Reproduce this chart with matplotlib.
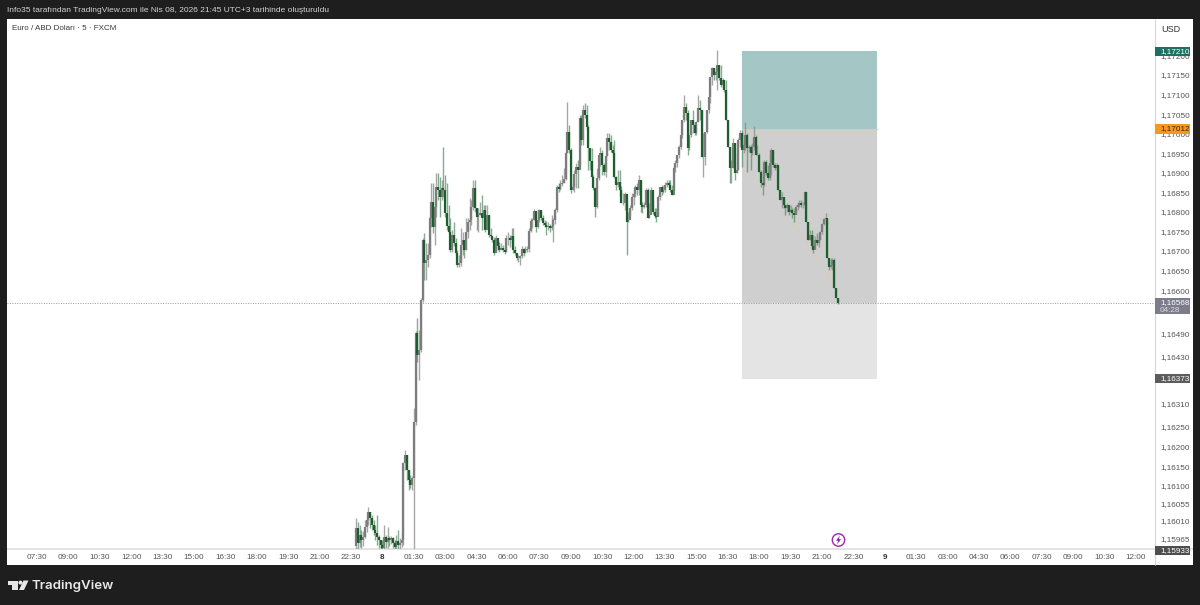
import matplotlib
matplotlib.use('Agg')
import matplotlib.pyplot as plt
from matplotlib.patches import Rectangle, Polygon, Circle
import numpy as np

plt.rcParams['font.family'] = ['Liberation Sans', 'DejaVu Sans']

# EURUSD 5 min, quote = 1 + value / 1e5, first bar 22:45 on Apr 7
highs = [
    16017,16007,15999,15987,15984,16012,16022,16045,16033,16025,
    16012,15999,16025,15974,15961,15961,15999,15974,15994,15971,
    15971,15969,15961,15974,15987,15966,15979,16160,16191,16178,
    16140,16127,16125,16299,16495,16529,16498,16580,16733,16746,
    16720,16720,16792,16874,16874,16818,16899,16899,16889,16881,
    16966,16894,16874,16818,16784,16754,16774,16733,16702,16690,
    16759,16749,16728,16784,16784,16836,16830,16881,16881,16810,
    16810,16825,16843,16818,16818,16818,16792,16759,16738,16736,
    16741,16728,16723,16720,16715,16708,16741,16749,16741,16759,
    16759,16713,16695,16690,16690,16713,16708,16713,16713,16759,
    16784,16784,16807,16802,16784,16807,16805,16792,16779,16777,
    16774,16769,16792,16784,16810,16869,16874,16881,16894,16912,
    16953,17081,17022,16963,16874,16907,16925,16933,17048,17048,
    17073,17078,17073,17022,16963,16963,16894,16864,16912,16945,
    16966,16958,16925,16945,17002,17002,16996,16971,16984,16892,
    16907,16907,16866,16848,16851,16830,16800,16818,16848,16856,
    16869,16874,16894,16881,16825,16825,16861,16861,16823,16864,
    16830,16810,16810,16843,16864,16869,16866,16876,16881,16881,
    16881,16869,16920,16933,16945,16971,16996,17035,17099,17078,
    17060,16996,17035,17060,17030,17032,17099,17086,17060,17002,
    17004,17060,17094,17145,17170,17168,17163,17214,17176,17176,
    17142,17137,17137,17035,16966,16933,16989,16976,16950,16989,
    17009,17009,16976,17030,17002,16971,16971,16976,17020,16996,
    16971,16950,16907,16871,16933,16933,16920,16950,16963,16958,
    16925,16925,16920,16856,16851,16838,16818,16823,16818,16818,
    16810,16810,16818,16823,16830,16830,16825,16853,16851,16774,
    16754,16754,16741,16738,16746,16741,16751,16771,16784,16797,
    16784,16682,16682,16682,16682,16605,16580]
lows = [
    15938,15938,15943,15941,15946,15966,15982,15999,15992,15987,
    15974,15961,15948,15941,15938,15938,15938,15941,15941,15946,
    15951,15941,15938,15938,15938,15938,15943,15948,16140,16115,
    16089,16094,16089,15938,16255,16416,16370,16442,16570,16626,
    16626,16659,16682,16761,16746,16715,16787,16830,16787,16830,
    16838,16787,16754,16746,16697,16697,16713,16690,16659,16659,
    16662,16690,16682,16702,16733,16754,16766,16805,16800,16754,
    16749,16792,16754,16774,16749,16759,16736,16736,16723,16690,
    16697,16702,16697,16702,16697,16692,16697,16715,16710,16720,
    16695,16690,16677,16672,16664,16682,16687,16695,16697,16697,
    16749,16759,16779,16749,16759,16774,16779,16766,16761,16741,
    16754,16749,16754,16723,16769,16800,16851,16856,16866,16874,
    16881,16951,16950,16848,16856,16851,16861,16861,16920,16971,
    16971,17040,17009,16907,16907,16887,16856,16787,16810,16881,
    16917,16894,16894,16889,16943,16958,16953,16945,16887,16856,
    16864,16838,16823,16818,16805,16690,16774,16792,16805,16818,
    16838,16843,16843,16800,16797,16810,16812,16784,16784,16807,
    16795,16784,16774,16792,16830,16843,16848,16851,16864,16864,
    16851,16843,16856,16902,16915,16938,16961,16989,17030,17035,
    16945,16958,16991,17002,16996,16996,17030,17035,16940,16889,
    16920,17002,17053,17078,17124,17137,17137,17112,17137,17119,
    17117,17106,17035,16966,16874,16874,16912,16881,16899,16907,
    16966,16915,16950,16958,16902,16953,16907,16945,16958,16945,
    16945,16902,16864,16843,16866,16894,16881,16881,16894,16915,
    16907,16907,16856,16830,16810,16810,16792,16800,16792,16797,
    16784,16774,16797,16805,16812,16812,16810,16815,16774,16728,
    16728,16710,16695,16715,16715,16710,16728,16743,16766,16774,
    16682,16651,16656,16651,16605,16580,16565]
closes = [
    15992,15953,15974,15961,15969,15994,16012,16033,16017,15999,
    15987,15979,15969,15961,15948,15941,15969,15956,15966,15961,
    15966,15953,15943,15958,15948,15953,15961,16158,16178,16140,
    16115,16102,16120,16263,16490,16434,16447,16575,16728,16669,
    16677,16690,16784,16825,16761,16812,16864,16856,16838,16861,
    16856,16797,16764,16749,16702,16741,16720,16695,16664,16669,
    16715,16728,16702,16749,16774,16779,16812,16861,16810,16787,
    16792,16797,16784,16805,16754,16792,16741,16738,16728,16695,
    16733,16713,16702,16708,16702,16697,16733,16733,16728,16738,
    16702,16695,16682,16682,16687,16705,16695,16702,16705,16751,
    16777,16779,16802,16761,16779,16805,16784,16771,16766,16761,
    16764,16759,16764,16779,16805,16864,16858,16871,16874,16884,
    16950,17004,16958,16856,16864,16897,16915,16907,17040,16984,
    17060,17048,17017,16963,16930,16889,16861,16812,16887,16945,
    16950,16920,16902,16943,16989,16979,16958,16950,16889,16869,
    16876,16856,16823,16823,16846,16774,16779,16810,16838,16846,
    16864,16856,16881,16818,16812,16818,16856,16784,16792,16856,
    16800,16789,16787,16838,16864,16851,16856,16869,16874,16869,
    16856,16843,16912,16925,16945,16966,16996,17035,17068,17053,
    16963,16996,17035,17022,17002,17030,17066,17060,16940,16940,
    17004,17060,17094,17145,17168,17150,17158,17176,17142,17124,
    17137,17112,17035,16966,16912,16912,16976,16899,16907,16984,
    17002,16958,16971,16996,16963,16966,16950,16966,16991,16945,
    16945,16902,16874,16869,16928,16899,16886,16925,16958,16920,
    16912,16920,16856,16830,16838,16818,16810,16818,16800,16805,
    16797,16792,16812,16818,16823,16818,16818,16851,16774,16728,
    16741,16713,16702,16728,16720,16728,16749,16769,16782,16784,
    16682,16659,16664,16677,16605,16580,16568]
first_open = 15946
first_bar = 183  # bars since the 07:30 tick

# long position tool
target_price = 1.17210
entry_price = 1.17012
stop_price = 1.16373
last_price = 1.16568
low_price = 1.15933
box_start = 404
box_end = 481.5

# faint dashed line under the last bars
dash_bars = [433.6, 445, 452.7, 456.5, 459.4]
dash_prices = [1.16771, 1.16694, 1.16643, 1.16609, 1.16571]

price_ticks = [1.17200, 1.17150, 1.17100, 1.17050, 1.17000, 1.16950, 1.16900, 1.16850,
               1.16800, 1.16750, 1.16700, 1.16650, 1.16600, 1.16490, 1.16430, 1.16310,
               1.16250, 1.16200, 1.16150, 1.16100, 1.16055, 1.16010, 1.15965]
time_labels = ['07:30', '09:00', '10:30', '12:00', '13:30', '15:00', '16:30', '18:00', '19:30',
               '21:00', '22:30', '8', '01:30', '03:00', '04:30', '06:00', '07:30', '09:00',
               '10:30', '12:00', '13:30', '15:00', '16:30', '18:00', '19:30', '21:00', '22:30',
               '9', '01:30', '03:00', '04:30', '06:00', '07:30', '09:00', '10:30', '12:00']

DARK = '#1e1e1e'
UP = '#7d7d7d'
DOWN = '#1d5e2f'
W, H = 1200, 605

fig = plt.figure(figsize=(12, 6.05), dpi=100, facecolor=DARK)

# page furniture, in pixels
page = fig.add_axes([0, 0, 1, 1])
page.set_xlim(0, W)
page.set_ylim(H, 0)
page.axis('off')
page.add_patch(Rectangle((7, 19), 1186, 546, color='white', lw=0))
page.text(7, 11, 'Info35 tarafından TradingView.com ile Nis 08, 2026 21:45 UTC+3 tarihinde oluşturuldu',
          color='#d4d4d4', fontsize=6.0, va='center')
page.text(12, 29, 'Euro / ABD Doları · 5 · FXCM', color='#3a3a3a', fontsize=5.75, va='center')
page.text(1171, 29, 'USD', color='#333333', fontsize=6.5, ha='center', va='center')
page.plot([7, 1193], [549, 549], color='#e3e3e3', lw=1.4, solid_capstyle='butt')
page.plot([1154.5, 1154.5], [19, 565], color='#d8d8d8', lw=0.9, solid_capstyle='butt')

# TradingView logo
page.add_patch(Polygon([(7.5, 580.5), (17.5, 580.5), (17.5, 590), (12, 590), (12, 584.5), (7.5, 584.5)],
                       color='#e8e8e8', lw=0))
page.add_patch(Circle((20.4, 582.6), 2.0, color='#e8e8e8', lw=0))
page.add_patch(Polygon([(23.5, 580.5), (28.5, 580.5), (24, 590), (19, 590)], color='#e8e8e8', lw=0))
page.text(32, 585.5, 'TradingView', color='#e8e8e8', fontsize=9.6, va='center',
          family=['Inter', 'DejaVu Sans'], weight='semibold')

# flash icon
page.add_patch(Circle((838.5, 540), 6.2, fc='white', ec='#9c27b0', lw=1))
page.add_patch(Polygon([(840, 535.5), (836, 540.7), (838.3, 540.7), (837, 544.5), (841, 539.2), (838.7, 539.2)],
                       color='#7b1fa2', lw=0, zorder=5))

ax = fig.add_axes([7 / W, 1 - 549 / H, 1147 / W, 530 / H])
ax.patch.set_alpha(0)
ax.set_xlim(-17.2, 640.3)
ax.set_ylim(1.15938, 1.17293)
for spine in ax.spines.values():
    spine.set_visible(False)

ax.add_patch(Rectangle((box_start, entry_price), box_end - box_start, target_price - entry_price,
                       color='#a4c6c4', lw=0, zorder=1))
ax.add_patch(Rectangle((box_start, last_price), box_end - box_start, entry_price - last_price,
                       color='#cfcfcf', lw=0, zorder=1))
ax.add_patch(Rectangle((box_start, stop_price), box_end - box_start, last_price - stop_price,
                       color='#e4e4e4', lw=0, zorder=1))
ax.plot([box_start, box_end], [entry_price, entry_price], color='#d8cba8', lw=0.8, zorder=1.5)
ax.axhline(last_price, color='#9a9a9a', lw=0.7, ls=(0, (1, 1.5)), zorder=1.6)
ax.plot(dash_bars, dash_prices, color='#e6c9a0', lw=0.8, ls=(0, (2, 2)), zorder=1.7)

# candles
c = 1 + np.array(closes) / 1e5
o = np.concatenate(([1 + first_open / 1e5], c[:-1]))
hi = 1 + np.array(highs) / 1e5
lo = 1 + np.array(lows) / 1e5
bars = first_bar + np.arange(len(c))
up = c >= o

ax.vlines(bars[up], lo[up], hi[up], color='#8a8a8a', lw=1.0, alpha=0.75, zorder=2)
ax.vlines(bars[~up], lo[~up], hi[~up], color='#5b9068', lw=1.0, alpha=0.75, zorder=2)
ax.vlines(bars[up], o[up], c[up], color=UP, lw=1.6, zorder=3)
ax.vlines(bars[~up], c[~up], o[~up], color=DOWN, lw=1.6, zorder=3)

# axes labels
ax.yaxis.tick_right()
ax.set_yticks(price_ticks)
ax.set_yticklabels([f'{p:.5f}'.replace('.', ',') for p in price_ticks])
ax.set_xticks(np.arange(len(time_labels)) * 18)
ax.set_xticklabels(time_labels)
ax.tick_params(axis='both', length=0, labelsize=5.9, labelcolor='#555555')
ax.tick_params(axis='y', pad=4.3)
ax.tick_params(axis='x', pad=3.8)
for lab in ax.get_xticklabels():
    if lab.get_text() in ('8', '9'):
        lab.set_fontweight('bold')
        lab.set_color('#333333')

# price badges on the right scale
badge_x = 1.0007
badge_w = 35 / 1147
tr = ax.get_yaxis_transform()
per_px = (1.17293 - 1.15938) / 530
text_x = 1 + 6 / 1147


def badge(price, text, color, text_color='white', px_up=4.6, px_down=4.6):
    ax.add_patch(Rectangle((badge_x, price - px_down * per_px), badge_w, (px_up + px_down) * per_px,
                           transform=tr, color=color, lw=0, clip_on=False, zorder=6))
    ax.text(text_x, price, text, transform=tr, color=text_color,
            fontsize=5.9, ha='left', va='center', zorder=7, clip_on=False)


badge(target_price, '1,17210', '#1f6f63')
badge(entry_price, '1,17012', '#f7981d', text_color='#3a2a00')
badge(last_price, '1,16568', '#7b7d8a', px_up=5, px_down=11.5)
ax.text(text_x, last_price - 7.5 * per_px, '04:28', transform=tr, color='#dddddd',
        fontsize=5.9, ha='left', va='center', zorder=7, clip_on=False)
badge(stop_price, '1,16373', '#5c5c5c')
badge(low_price, '1,15933', '#4e4e4e', px_up=4.6, px_down=4.2)

fig.savefig('out.png', dpi=100, facecolor=DARK)
